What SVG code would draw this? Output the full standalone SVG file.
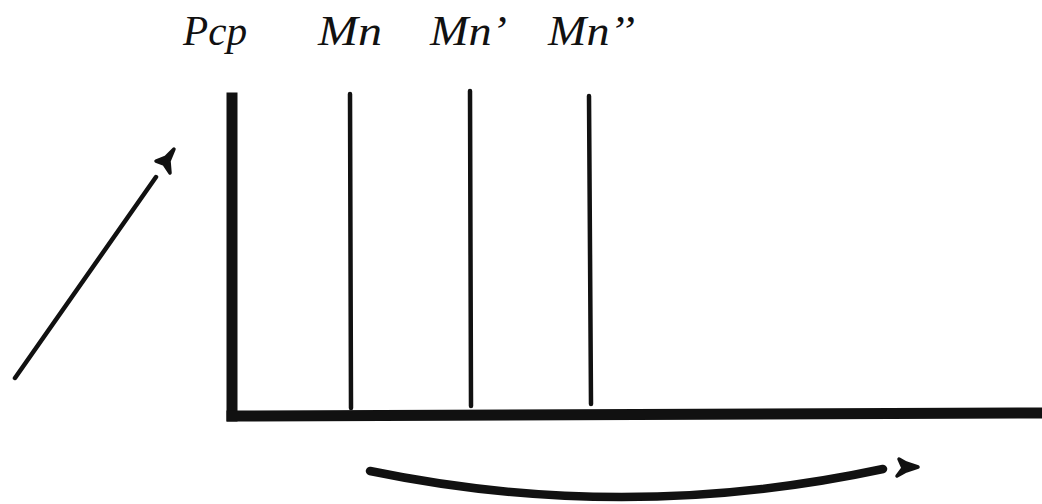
<svg xmlns="http://www.w3.org/2000/svg" width="1042" height="504" viewBox="0 0 1042 504">
<style>
.lbl{font-family:"Liberation Serif","Times New Roman",serif;font-style:italic;font-size:42px;fill:#111}
.thick{stroke:#111;stroke-width:11;fill:none;stroke-linecap:square}
.thin{stroke:#111;stroke-width:4.5;fill:none;stroke-linecap:round}
.head{fill:#111;stroke:#111;stroke-width:3.5;stroke-linejoin:round}
</style>
<rect width="1042" height="504" fill="#fff"/>
<g id="Pcp">
<line class="thick" x1="232" y1="98" x2="232" y2="416"/>
<text class="lbl" x="183" y="45" textLength="64" lengthAdjust="spacingAndGlyphs">Pcp</text>
</g>
<g id="Mn">
<line class="thin" x1="350" y1="94" x2="351" y2="408"/>
<text class="lbl" x="318" y="45" textLength="64" lengthAdjust="spacingAndGlyphs">Mn</text>
</g>
<g id="Mn1">
<line class="thin" x1="470" y1="91" x2="471" y2="406"/>
<text class="lbl" x="430" y="45" textLength="77" lengthAdjust="spacingAndGlyphs">Mn’</text>
</g>
<g id="Mn2">
<line class="thin" x1="589" y1="96" x2="591" y2="404"/>
<text class="lbl" x="548" y="45" textLength="87" lengthAdjust="spacingAndGlyphs">Mn’’</text>
</g>
<g id="base">
<line class="thick" x1="232" y1="416" x2="1042" y2="413"/>
</g>
<g id="connectors">
<line class="thin" x1="15" y1="378" x2="156" y2="177"/>
<path class="head" d="M174,149 L166,157 L156,161 L164,164 L170,173 L169,161 Z"/>
<path d="M370,471 Q626,524 883,469" fill="none" stroke="#111" stroke-width="8.5" stroke-linecap="round"/>
<path class="head" d="M918,467 L906,463 L899,459 L903,468 L897,476 L906,471 Z"/>
</g>
</svg>
